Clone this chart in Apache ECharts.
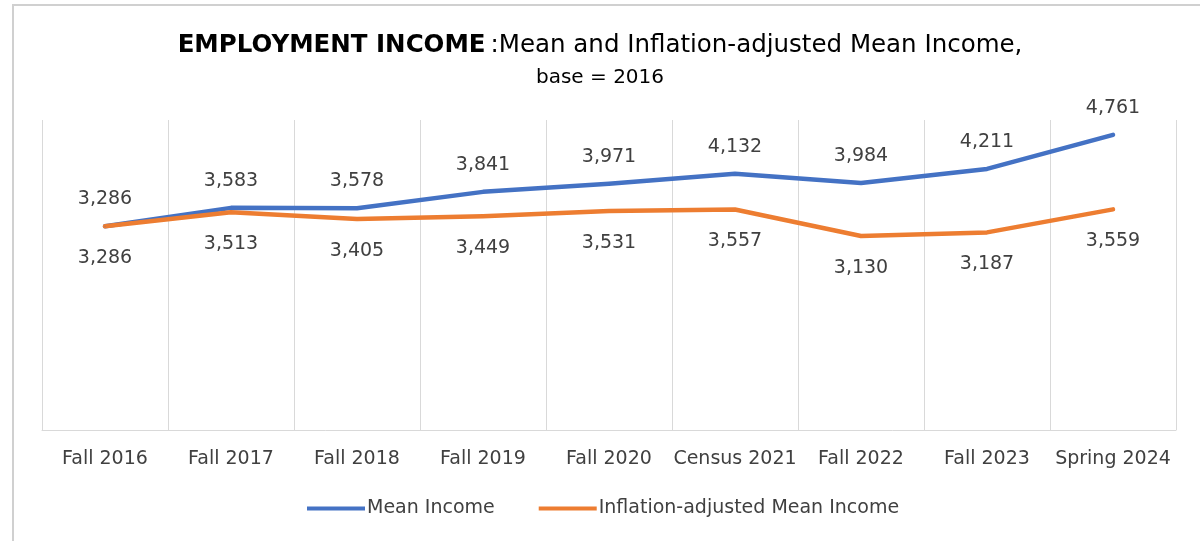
<!DOCTYPE html>
<html>
<head>
<meta charset="utf-8">
<script src="https://cdn.jsdelivr.net/npm/echarts@6/dist/echarts.min.js"></script>
<style>
	html, body { margin: 0; padding: 0; background: #fff; }
	#chart { width: 1200px; height: 541px; }
</style>
</head>
<body>
<div id="chart"></div>
<script>
var categories = ['Fall 2016', 'Fall 2017', 'Fall 2018', 'Fall 2019', 'Fall 2020', 'Census 2021', 'Fall 2022', 'Fall 2023', 'Spring 2024'];
var meanIncome = [3286, 3583, 3578, 3841, 3971, 4132, 3984, 4211, 4761];
var adjustedIncome = [3286, 3513, 3405, 3449, 3531, 3557, 3130, 3187, 3559];
var seriesNames = ['Mean Income', 'Inflation-adjusted Mean Income'];

var font = 'DejaVu Sans, Liberation Sans, sans-serif';
var textColor = '#404040';

function fmt(p) {
	return p.value.toLocaleString('en-US');
}

var chart = echarts.init(document.getElementById('chart'), null, { renderer: 'canvas' });
var option = {
	animation: false,
	backgroundColor: '#fff',
	title: {
		left: 'center',
		top: 28,
		itemGap: 10,
		text: '{b|EMPLOYMENT INCOME} {n|:Mean and Inflation-adjusted Mean Income,}',
		subtext: 'base = 2016',
		textStyle: {
			fontWeight: 'normal',
			rich: {
				b: { fontFamily: font, fontSize: 24.5, fontWeight: 'bold', color: '#000' },
				n: { fontFamily: font, fontSize: 24.5, fontWeight: 'normal', color: '#000' }
			}
		},
		subtextStyle: { fontFamily: font, fontSize: 20, color: '#000' }
	},
	legend: {
		data: seriesNames,
		left: 302,
		top: 494,
		icon: 'rect',
		itemWidth: 58,
		itemHeight: 4,
		itemGap: 44,
		textStyle: { fontFamily: font, fontSize: 19, color: textColor, padding: [0, 0, 0, -3] }
	},
	grid: { left: 42, right: 24, top: 120, bottom: 111 },
	xAxis: {
		type: 'category',
		data: categories,
		boundaryGap: true,
		axisLine: { lineStyle: { color: '#d9d9d9', width: 1 } },
		axisTick: { show: false },
		splitLine: { show: true, lineStyle: { color: '#d9d9d9', width: 1 } },
		axisLabel: { fontFamily: font, fontSize: 19, color: textColor, margin: 20, interval: 0 }
	},
	yAxis: {
		type: 'value',
		min: 0,
		max: 5000,
		interval: 1000,
		show: false,
		splitLine: { show: false }
	},
	series: [{
		name: seriesNames[0],
		type: 'line',
		data: meanIncome,
		color: '#4472C4',
		symbol: 'circle',
		symbolSize: 1,
		lineStyle: { width: 4.5, color: '#4472C4', cap: 'round', join: 'round' },
		label: { show: true, position: 'top', distance: 17, formatter: fmt, fontFamily: font, fontSize: 19, color: textColor }
	}, {
		name: seriesNames[1],
		type: 'line',
		data: adjustedIncome,
		color: '#ED7D31',
		symbol: 'circle',
		symbolSize: 1,
		lineStyle: { width: 4.5, color: '#ED7D31', cap: 'round', join: 'round' },
		label: { show: true, position: 'bottom', distance: 22, formatter: fmt, fontFamily: font, fontSize: 19, color: textColor }
	}],
	graphic: [{
		type: 'polyline',
		silent: true,
		shape: { points: [[13, 541], [13, 5], [1200, 5]] },
		style: { stroke: '#d0d0d0', lineWidth: 2, fill: null }
	}]
};
chart.setOption(option);
</script>
</body>
</html>
